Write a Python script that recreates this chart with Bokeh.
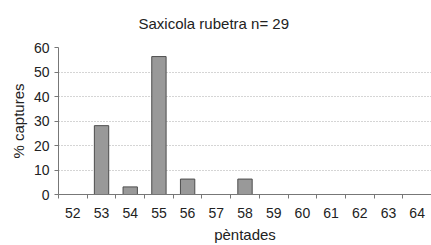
from bokeh.plotting import figure
from bokeh.models import FixedTicker, Range1d, ColumnDataSource
from bokeh.embed import file_html
from bokeh.resources import INLINE

pentades = [52, 53, 54, 55, 56, 57, 58, 59, 60, 61, 62, 63, 64]
captures = [0, 28.1, 3.1, 56.3, 6.3, 0, 6.3, 0, 0, 0, 0, 0, 0]
y_ticks = [0, 10, 20, 30, 40, 50, 60]
title_text = "Saxicola rubetra n= 29"
x_label = "pèntades"
y_label = "% captures"

FONT = "Liberation Sans"
TXT = "#222222"

p = figure(width=431, height=245, output_backend="svg", toolbar_location=None,
           x_range=Range1d(pentades[0] - 0.5, pentades[-1] + 0.5),
           y_range=Range1d(0, 60),
           min_border_left=58, min_border_right=0, min_border_top=47, min_border_bottom=51,
           title=title_text)
p.outline_line_color = None
p.background_fill_color = "white"
p.border_fill_color = "white"

p.title.align = "left"
p.title.vertical_align = "top"
p.title.offset = 80
p.title.text_font = FONT
p.title.text_font_size = "15px"
p.title.text_font_style = "normal"
p.title.text_color = TXT
p.title.standoff = 28

src = ColumnDataSource(dict(x=pentades, top=captures))
p.vbar(x="x", top="top", width=0.5, bottom=0, source=src,
       fill_color="#999999", line_color="#4d4d4d", line_width=1)

# x axis
xa = p.xaxis[0]
xa.ticker = FixedTicker(ticks=pentades, minor_ticks=[v - 0.5 for v in pentades] + [pentades[-1] + 0.5])
xa.major_tick_line_color = None
xa.minor_tick_line_color = "#777777"
xa.minor_tick_out = 4
xa.minor_tick_in = 0
xa.axis_line_color = "#777777"
xa.major_label_text_font = FONT
xa.major_label_text_font_size = "14px"
xa.major_label_text_color = TXT
xa.major_label_standoff = 7
xa.axis_label = x_label
xa.axis_label_text_font = FONT
xa.axis_label_text_font_size = "15px"
xa.axis_label_text_font_style = "normal"
xa.axis_label_text_color = TXT
xa.axis_label_standoff = 5

ya = p.yaxis[0]
ya.ticker = FixedTicker(ticks=y_ticks)
ya.minor_tick_line_color = None
ya.major_tick_line_color = "#777777"
ya.major_tick_out = 4
ya.major_tick_in = 0
ya.axis_line_color = "#777777"
ya.major_label_text_font = FONT
ya.major_label_text_font_size = "14px"
ya.major_label_text_color = TXT
ya.major_label_standoff = 5
ya.axis_label = y_label
ya.axis_label_text_font = FONT
ya.axis_label_text_font_size = "15px"
ya.axis_label_text_font_style = "normal"
ya.axis_label_text_color = TXT
ya.axis_label_standoff = 4

p.xgrid.grid_line_color = None
p.ygrid.ticker = FixedTicker(ticks=y_ticks[1:])
p.ygrid.grid_line_color = "#aaaaaa"
p.ygrid.grid_line_dash = "1 2"
p.ygrid.grid_line_width = 1

open("out.html", "w").write(file_html(p, INLINE))
